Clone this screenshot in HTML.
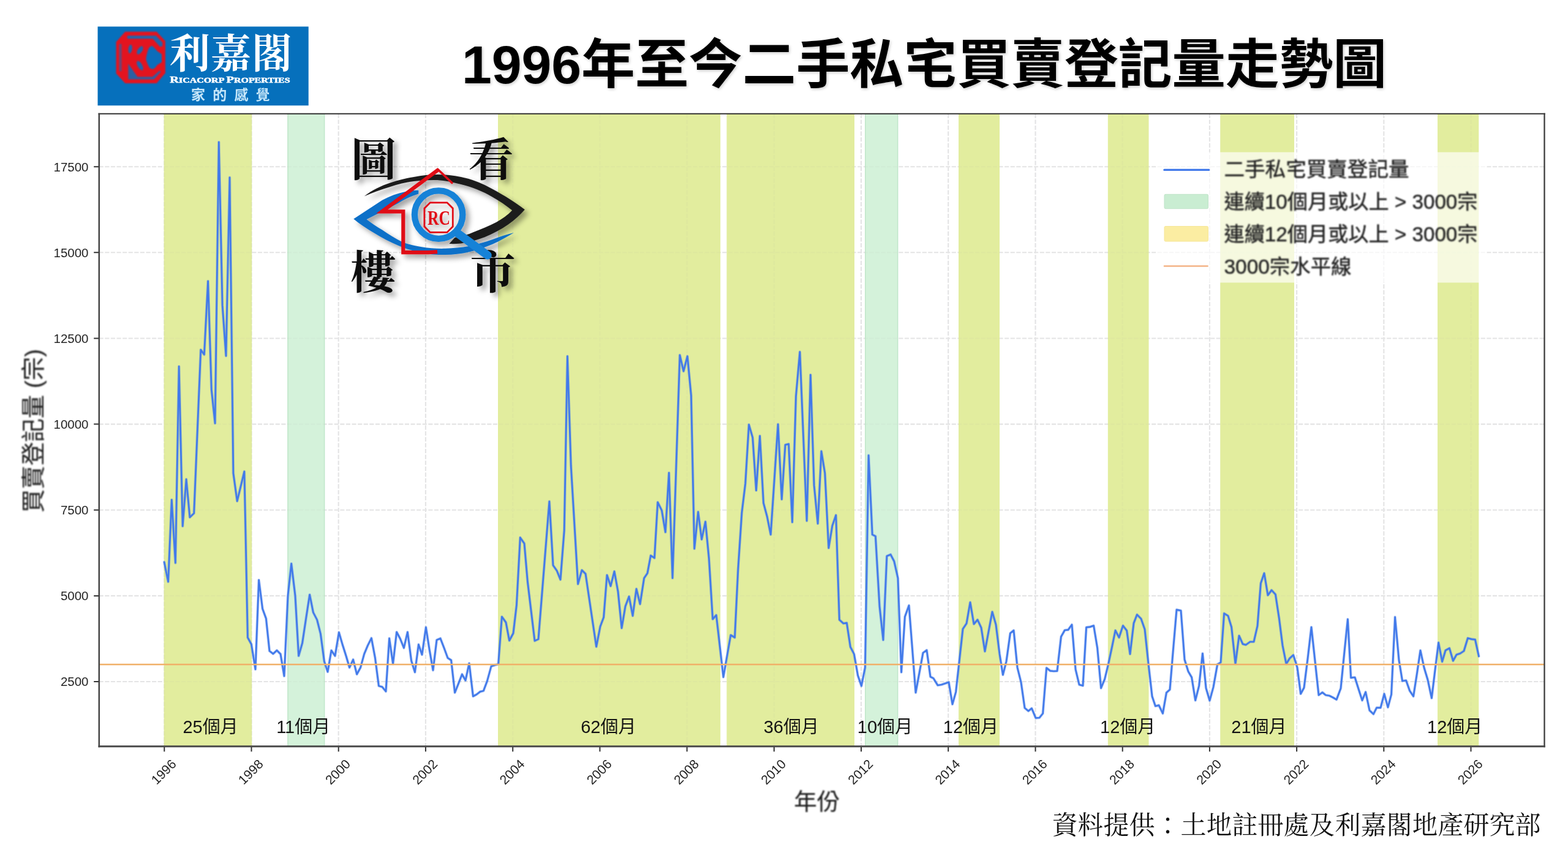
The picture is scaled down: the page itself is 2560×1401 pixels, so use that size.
<!DOCTYPE html>
<html lang="zh-Hant"><head><meta charset="utf-8">
<title>1996年至今二手私宅買賣登記量走勢圖</title>
<style>
html,body{margin:0;padding:0;background:#fff}
body{width:2560px;height:1401px;position:relative;overflow:hidden;font-family:"Liberation Sans",sans-serif}
svg{position:absolute;left:0;top:0;display:block}
.sr span{position:absolute;white-space:nowrap;color:transparent;line-height:1;font-family:"Liberation Sans",sans-serif;overflow:hidden;height:1em}
</style></head>
<body>
<svg width="2560" height="1401" viewBox="0 0 2560 1401">
<defs>
<filter id="cb" x="0" y="0" width="2560" height="1401" filterUnits="userSpaceOnUse" color-interpolation-filters="sRGB"><feGaussianBlur stdDeviation="0.8"/></filter>
<filter id="ts" x="-2%" y="-20%" width="104%" height="150%"><feDropShadow dx="1.5" dy="2" stdDeviation="2.2" flood-color="#000" flood-opacity=".2"/></filter>
<filter id="ws" x="-10%" y="-10%" width="125%" height="125%"><feDropShadow dx="6" dy="6" stdDeviation="4.2" flood-color="#000" flood-opacity=".36"/></filter>
</defs>
<g id="chart">
<path d="M268.3 185.8V1218.7M410.5 185.8V1218.7M552.7 185.8V1218.7M694.9 185.8V1218.7M837.2 185.8V1218.7M979.4 185.8V1218.7M1121.6 185.8V1218.7M1263.8 185.8V1218.7M1406.0 185.8V1218.7M1548.2 185.8V1218.7M1690.5 185.8V1218.7M1832.7 185.8V1218.7M1974.9 185.8V1218.7M2117.1 185.8V1218.7M2259.3 185.8V1218.7M2401.5 185.8V1218.7M161.7 1113.0H2521.7M161.7 972.9H2521.7M161.7 832.7H2521.7M161.7 692.6H2521.7M161.7 552.5H2521.7M161.7 412.3H2521.7M161.7 272.2H2521.7" fill="none" stroke="#b2b2b8" stroke-opacity=".29" stroke-width="2.1" stroke-dasharray="7.1 2.5"/>
<rect x="267.6" y="185.8" width="143.6" height="1032.9" fill="#e2ed9e"/>
<rect x="469.4" y="185.8" width="60.8" height="1032.9" fill="#d4f2da"/>
<path d="M470.0 185.8V1218.7M529.6 185.8V1218.7" stroke="#bfe6c9" stroke-width="1.4" fill="none"/>
<rect x="813" y="185.8" width="363.2" height="1032.9" fill="#e2ed9e"/>
<rect x="1186.4" y="185.8" width="208.6" height="1032.9" fill="#e2ed9e"/>
<rect x="1412.2" y="185.8" width="54.0" height="1032.9" fill="#d4f2da"/>
<path d="M1412.8 185.8V1218.7M1465.6000000000001 185.8V1218.7" stroke="#bfe6c9" stroke-width="1.4" fill="none"/>
<rect x="1565" y="185.8" width="67.0" height="1032.9" fill="#e2ed9e"/>
<rect x="1808.8" y="185.8" width="66.7" height="1032.9" fill="#e2ed9e"/>
<rect x="1992.2" y="185.8" width="120.8" height="1032.9" fill="#e2ed9e"/>
<rect x="2347" y="185.8" width="67.3" height="1032.9" fill="#e2ed9e"/>
<path d="M268.3 185.8V1218.7M410.5 185.8V1218.7M552.7 185.8V1218.7M694.9 185.8V1218.7M837.2 185.8V1218.7M979.4 185.8V1218.7M1121.6 185.8V1218.7M1263.8 185.8V1218.7M1406.0 185.8V1218.7M1548.2 185.8V1218.7M1690.5 185.8V1218.7M1832.7 185.8V1218.7M1974.9 185.8V1218.7M2117.1 185.8V1218.7M2259.3 185.8V1218.7M2401.5 185.8V1218.7M161.7 1113.0H2521.7M161.7 972.9H2521.7M161.7 832.7H2521.7M161.7 692.6H2521.7M161.7 552.5H2521.7M161.7 412.3H2521.7M161.7 272.2H2521.7" fill="none" stroke="#b2b2b8" stroke-opacity=".08" stroke-width="2.1" stroke-dasharray="7.1 2.5"/>
<polyline fill="none" stroke="#4179ea" stroke-opacity=".33" stroke-width="4.6" stroke-linejoin="round" stroke-linecap="round" points="268.1,917.8 274.6,950 280.3,816.1 286.4,919.1 292.2,598.3 298.2,859.2 304.1,782.6 309.9,844.7 316.7,838.1 327.8,571.1 333.4,579 339.6,459 345.3,636.6 351.1,691.2 357.3,232 363.1,498.4 369,581.1 375,289.9 380.9,772.6 387.2,818.3 398.9,769.9 404.4,1041 410.4,1052 417,1093 422.6,947 428.6,994 434.4,1010 440,1063 446,1067.6 452,1062 458,1068 464,1104 470,973 475.7,920.4 482,973 487.6,1071 493.6,1050 499.6,1010 505.6,971 511.4,1000 517.6,1012 523.4,1035 529.4,1080 535,1097 541,1062 547,1071 553.4,1032.6 559,1052 565,1071 570.6,1090 576.6,1077 582.6,1101 588.6,1090 594.6,1068 600.4,1054 606.4,1042 612.4,1074 618.4,1120 624,1121.6 630,1129 635.6,1042.4 641.6,1084 647.6,1032 653.4,1043 659.4,1058 665.4,1032 671.6,1079 677.4,1097.6 683.4,1052.4 689,1069 695.4,1024.4 701,1060 707,1094.4 713,1045 719,1042.4 725,1058 731,1074.4 736.6,1078 742.6,1131 748.6,1116 754.4,1101 760,1111 766,1083 772.4,1137 778,1134 784,1129.4 789.4,1128 795.4,1112 802,1088 808,1086 813.6,1084.4 819.4,1007 826,1016.4 831.6,1046 838,1034 843.4,988 849.3,877.7 856,887.4 861.4,950 873,1046.4 879,1043.6 896.9,818.8 903,923.1 909.2,932 915,946.4 921.2,866.3 926.4,581.7 932.2,760.7 943.6,953.6 950,931 956,937 973.6,1056 980,1023 985.6,1008 991,939 997,957 1003,933 1009,966 1015,1025.6 1021,990 1027,974 1033,1005.6 1039,961.6 1045,986.4 1051.6,944 1057,936 1062.4,907.2 1068.5,911.2 1073.8,820.1 1080.4,833.3 1086.4,869 1092.2,772 1098,944 1109.9,579.8 1116,606.2 1122.3,581.7 1128.4,645.8 1133.7,895.9 1139.8,835.9 1145.6,880.8 1151.7,851.8 1157.5,912 1163.6,1011 1169.4,1004.4 1181,1105.6 1193,1037 1199.6,1041 1205,930 1211.1,837.3 1216.9,789.7 1222.7,693.4 1228.8,714.5 1234.6,800.8 1240.6,711.8 1246.5,821.4 1252.5,843.9 1258.3,872.9 1270.2,692.8 1276.3,815.3 1282.1,726.4 1287.6,725 1293.5,852.6 1299.5,647.1 1305.9,574.5 1317.2,850.5 1323.3,612 1329.1,792.4 1335.2,855 1341,736.9 1346.8,772.6 1352.9,894.8 1358.9,858.4 1364.8,841.2 1370.4,1012 1377,1018 1382.4,1017 1388.4,1056.4 1394.4,1068 1400.6,1103 1406.4,1120 1412.4,1090 1418.1,743.5 1424.2,872.9 1429.4,875.6 1436,990 1442,1045 1447.9,908 1454,905.4 1459.8,916.5 1466,944 1471.6,1097.6 1477.4,1007 1484,988.6 1495,1131 1507,1066 1513,1061.6 1519,1105 1524,1107.6 1531,1119 1537,1118 1543,1116 1549,1114 1555,1150 1560.6,1130 1572,1027 1578,1018 1584,983.6 1590,1019 1596,1012 1602,1025 1608,1063.6 1620,999 1626,1020 1632,1068 1637.4,1102 1643,1080 1649.4,1034 1655,1029.4 1661,1090 1667,1114 1673,1156 1679,1161 1684.4,1156.6 1691,1172.4 1697,1172 1702.6,1165 1708.6,1090.6 1714.6,1095.4 1720.6,1096 1726,1095.6 1732.4,1039.6 1738.4,1029 1744,1028.4 1750,1020 1756,1093 1762,1118 1768,1119.6 1773.6,1024.4 1779.6,1023.6 1785.6,1021.6 1791.6,1058 1797.6,1123.6 1803.6,1109 1809.6,1084 1815.6,1056 1821,1029.4 1827,1041 1833.4,1021.6 1839.6,1029.6 1845,1068 1851,1017.6 1856.4,1003.6 1863,1010.4 1869,1027.6 1875,1084 1881,1137 1886.4,1153 1892,1151.6 1898.4,1165 1904.4,1131 1910,1126 1915.4,1061 1921,995.6 1928,997 1934,1077 1940,1096.4 1945.6,1106 1951.6,1143.6 1957.6,1120 1963.4,1067 1969,1123.6 1975,1144 1981,1122 1987.6,1085 1993,1081.6 1998.6,1001.6 2005,1005.6 2010.6,1024 2017,1084 2023,1038 2029,1051.6 2034,1053 2041,1048 2047,1048 2053,1022 2058.4,952.4 2064,936 2070,972 2076,963.6 2082.4,970.6 2088.4,1010 2094,1054 2100,1084 2105.6,1075 2111.6,1069.6 2118,1090 2123.6,1133 2129,1123 2135.2,1074 2141,1024 2147,1079.6 2153,1135 2159,1130.6 2164.4,1135 2170.4,1136 2176.4,1139 2182,1142.4 2189,1124 2194.6,1068 2200.4,1011 2205.6,1106.6 2212,1106 2218,1125 2224,1143.6 2229.6,1130 2236,1160 2242.4,1166 2247.6,1155.6 2254,1155.6 2260,1133 2266,1155 2271.6,1134 2277.6,1007.6 2284,1078 2289.6,1112 2295.6,1111 2301.6,1128 2307.6,1137 2313.4,1100 2319,1062 2325,1090 2331,1110 2337.4,1140 2343,1094 2348.6,1049.4 2354.6,1080.4 2360,1062 2366.4,1058.4 2372.4,1079 2378,1069 2384,1067 2390,1063 2396.4,1042 2402.4,1043.6 2408.4,1044.4 2414.4,1071.6"/>
<polyline fill="none" stroke="#4179ea" stroke-width="2.7" stroke-linejoin="round" stroke-linecap="round" points="268.1,917.8 274.6,950 280.3,816.1 286.4,919.1 292.2,598.3 298.2,859.2 304.1,782.6 309.9,844.7 316.7,838.1 327.8,571.1 333.4,579 339.6,459 345.3,636.6 351.1,691.2 357.3,232 363.1,498.4 369,581.1 375,289.9 380.9,772.6 387.2,818.3 398.9,769.9 404.4,1041 410.4,1052 417,1093 422.6,947 428.6,994 434.4,1010 440,1063 446,1067.6 452,1062 458,1068 464,1104 470,973 475.7,920.4 482,973 487.6,1071 493.6,1050 499.6,1010 505.6,971 511.4,1000 517.6,1012 523.4,1035 529.4,1080 535,1097 541,1062 547,1071 553.4,1032.6 559,1052 565,1071 570.6,1090 576.6,1077 582.6,1101 588.6,1090 594.6,1068 600.4,1054 606.4,1042 612.4,1074 618.4,1120 624,1121.6 630,1129 635.6,1042.4 641.6,1084 647.6,1032 653.4,1043 659.4,1058 665.4,1032 671.6,1079 677.4,1097.6 683.4,1052.4 689,1069 695.4,1024.4 701,1060 707,1094.4 713,1045 719,1042.4 725,1058 731,1074.4 736.6,1078 742.6,1131 748.6,1116 754.4,1101 760,1111 766,1083 772.4,1137 778,1134 784,1129.4 789.4,1128 795.4,1112 802,1088 808,1086 813.6,1084.4 819.4,1007 826,1016.4 831.6,1046 838,1034 843.4,988 849.3,877.7 856,887.4 861.4,950 873,1046.4 879,1043.6 896.9,818.8 903,923.1 909.2,932 915,946.4 921.2,866.3 926.4,581.7 932.2,760.7 943.6,953.6 950,931 956,937 973.6,1056 980,1023 985.6,1008 991,939 997,957 1003,933 1009,966 1015,1025.6 1021,990 1027,974 1033,1005.6 1039,961.6 1045,986.4 1051.6,944 1057,936 1062.4,907.2 1068.5,911.2 1073.8,820.1 1080.4,833.3 1086.4,869 1092.2,772 1098,944 1109.9,579.8 1116,606.2 1122.3,581.7 1128.4,645.8 1133.7,895.9 1139.8,835.9 1145.6,880.8 1151.7,851.8 1157.5,912 1163.6,1011 1169.4,1004.4 1181,1105.6 1193,1037 1199.6,1041 1205,930 1211.1,837.3 1216.9,789.7 1222.7,693.4 1228.8,714.5 1234.6,800.8 1240.6,711.8 1246.5,821.4 1252.5,843.9 1258.3,872.9 1270.2,692.8 1276.3,815.3 1282.1,726.4 1287.6,725 1293.5,852.6 1299.5,647.1 1305.9,574.5 1317.2,850.5 1323.3,612 1329.1,792.4 1335.2,855 1341,736.9 1346.8,772.6 1352.9,894.8 1358.9,858.4 1364.8,841.2 1370.4,1012 1377,1018 1382.4,1017 1388.4,1056.4 1394.4,1068 1400.6,1103 1406.4,1120 1412.4,1090 1418.1,743.5 1424.2,872.9 1429.4,875.6 1436,990 1442,1045 1447.9,908 1454,905.4 1459.8,916.5 1466,944 1471.6,1097.6 1477.4,1007 1484,988.6 1495,1131 1507,1066 1513,1061.6 1519,1105 1524,1107.6 1531,1119 1537,1118 1543,1116 1549,1114 1555,1150 1560.6,1130 1572,1027 1578,1018 1584,983.6 1590,1019 1596,1012 1602,1025 1608,1063.6 1620,999 1626,1020 1632,1068 1637.4,1102 1643,1080 1649.4,1034 1655,1029.4 1661,1090 1667,1114 1673,1156 1679,1161 1684.4,1156.6 1691,1172.4 1697,1172 1702.6,1165 1708.6,1090.6 1714.6,1095.4 1720.6,1096 1726,1095.6 1732.4,1039.6 1738.4,1029 1744,1028.4 1750,1020 1756,1093 1762,1118 1768,1119.6 1773.6,1024.4 1779.6,1023.6 1785.6,1021.6 1791.6,1058 1797.6,1123.6 1803.6,1109 1809.6,1084 1815.6,1056 1821,1029.4 1827,1041 1833.4,1021.6 1839.6,1029.6 1845,1068 1851,1017.6 1856.4,1003.6 1863,1010.4 1869,1027.6 1875,1084 1881,1137 1886.4,1153 1892,1151.6 1898.4,1165 1904.4,1131 1910,1126 1915.4,1061 1921,995.6 1928,997 1934,1077 1940,1096.4 1945.6,1106 1951.6,1143.6 1957.6,1120 1963.4,1067 1969,1123.6 1975,1144 1981,1122 1987.6,1085 1993,1081.6 1998.6,1001.6 2005,1005.6 2010.6,1024 2017,1084 2023,1038 2029,1051.6 2034,1053 2041,1048 2047,1048 2053,1022 2058.4,952.4 2064,936 2070,972 2076,963.6 2082.4,970.6 2088.4,1010 2094,1054 2100,1084 2105.6,1075 2111.6,1069.6 2118,1090 2123.6,1133 2129,1123 2135.2,1074 2141,1024 2147,1079.6 2153,1135 2159,1130.6 2164.4,1135 2170.4,1136 2176.4,1139 2182,1142.4 2189,1124 2194.6,1068 2200.4,1011 2205.6,1106.6 2212,1106 2218,1125 2224,1143.6 2229.6,1130 2236,1160 2242.4,1166 2247.6,1155.6 2254,1155.6 2260,1133 2266,1155 2271.6,1134 2277.6,1007.6 2284,1078 2289.6,1112 2295.6,1111 2301.6,1128 2307.6,1137 2313.4,1100 2319,1062 2325,1090 2331,1110 2337.4,1140 2343,1094 2348.6,1049.4 2354.6,1080.4 2360,1062 2366.4,1058.4 2372.4,1079 2378,1069 2384,1067 2390,1063 2396.4,1042 2402.4,1043.6 2408.4,1044.4 2414.4,1071.6"/>
<path d="M161.7 1085.0H2521.7" stroke="#f0b068" stroke-opacity=".35" stroke-width="3.6" fill="none"/>
<path d="M161.7 1085.0H2521.7" stroke="#f0b068" stroke-width="1.9" fill="none"/>
<path d="M268.3 1218.7v8.5M410.5 1218.7v8.5M552.7 1218.7v8.5M694.9 1218.7v8.5M837.2 1218.7v8.5M979.4 1218.7v8.5M1121.6 1218.7v8.5M1263.8 1218.7v8.5M1406.0 1218.7v8.5M1548.2 1218.7v8.5M1690.5 1218.7v8.5M1832.7 1218.7v8.5M1974.9 1218.7v8.5M2117.1 1218.7v8.5M2259.3 1218.7v8.5M2401.5 1218.7v8.5M161.7 1113.0h-8.5M161.7 972.9h-8.5M161.7 832.7h-8.5M161.7 692.6h-8.5M161.7 552.5h-8.5M161.7 412.3h-8.5M161.7 272.2h-8.5" stroke="#333" stroke-width="2" fill="none"/>
<path d="M160.5 185.7H2522.7999999999997" stroke="#333" stroke-width="2.1" fill="none"/>
<path d="M2521.5 184.8V1220.2" stroke="#3c3c3c" stroke-width="2.3" fill="none"/>
<path d="M160.5 1218.8H2522.7999999999997" stroke="#4a4a4a" stroke-width="3" fill="none"/>
<path d="M161.8 184.8V1220.2" stroke="#444" stroke-width="2.5" fill="none"/>
<g font-family="Liberation Sans, sans-serif" font-size="20.5" fill="#1f1f1f" opacity=".99">
<text x="144.5" y="1120.3" text-anchor="end">2500</text>
<text x="144.5" y="980.2" text-anchor="end">5000</text>
<text x="144.5" y="840.0" text-anchor="end">7500</text>
<text x="144.5" y="699.9" text-anchor="end">10000</text>
<text x="144.5" y="559.8" text-anchor="end">12500</text>
<text x="144.5" y="419.6" text-anchor="end">15000</text>
<text x="144.5" y="279.5" text-anchor="end">17500</text>
<text transform="translate(267.0 1260.4) rotate(-45)" y="7.5" font-size="21.2" text-anchor="middle">1996</text>
<text transform="translate(409.2 1260.4) rotate(-45)" y="7.5" font-size="21.2" text-anchor="middle">1998</text>
<text transform="translate(551.4 1260.4) rotate(-45)" y="7.5" font-size="21.2" text-anchor="middle">2000</text>
<text transform="translate(693.6 1260.4) rotate(-45)" y="7.5" font-size="21.2" text-anchor="middle">2002</text>
<text transform="translate(835.9 1260.4) rotate(-45)" y="7.5" font-size="21.2" text-anchor="middle">2004</text>
<text transform="translate(978.1 1260.4) rotate(-45)" y="7.5" font-size="21.2" text-anchor="middle">2006</text>
<text transform="translate(1120.3 1260.4) rotate(-45)" y="7.5" font-size="21.2" text-anchor="middle">2008</text>
<text transform="translate(1262.5 1260.4) rotate(-45)" y="7.5" font-size="21.2" text-anchor="middle">2010</text>
<text transform="translate(1404.7 1260.4) rotate(-45)" y="7.5" font-size="21.2" text-anchor="middle">2012</text>
<text transform="translate(1546.9 1260.4) rotate(-45)" y="7.5" font-size="21.2" text-anchor="middle">2014</text>
<text transform="translate(1689.2 1260.4) rotate(-45)" y="7.5" font-size="21.2" text-anchor="middle">2016</text>
<text transform="translate(1831.4 1260.4) rotate(-45)" y="7.5" font-size="21.2" text-anchor="middle">2018</text>
<text transform="translate(1973.6 1260.4) rotate(-45)" y="7.5" font-size="21.2" text-anchor="middle">2020</text>
<text transform="translate(2115.8 1260.4) rotate(-45)" y="7.5" font-size="21.2" text-anchor="middle">2022</text>
<text transform="translate(2258.0 1260.4) rotate(-45)" y="7.5" font-size="21.2" text-anchor="middle">2024</text>
<text transform="translate(2400.2 1260.4) rotate(-45)" y="7.5" font-size="21.2" text-anchor="middle">2026</text>
</g>
<g filter="url(#cb)" stroke="#1c1c1c" stroke-width=".2" font-family="Liberation Sans, Noto Sans CJK TC, sans-serif" fill="#1c1c1c">
<text x="1333.7" y="1322" font-size="37.5" text-anchor="middle">年份</text>
<g transform="translate(68 703.5) rotate(-90)">
<text x="0" y="0" font-size="38.5" text-anchor="middle">買賣登記量 (宗)</text>
</g>
</g>
<rect x="1887.6" y="248.6" width="540" height="212.8" rx="6" fill="#fff" fill-opacity=".67"/>
<path d="M1901 277.4H1973.6" stroke="#4179ea" stroke-width="3.4" fill="none" stroke-linecap="round"/>
<rect x="1901" y="317.3" width="71.5" height="23.4" rx="2" fill="#c9edd2" stroke="#bfe3c8" stroke-width="1"/>
<rect x="1901" y="369.5" width="71.5" height="24.6" rx="2" fill="#fbeda2" stroke="#f6e69a" stroke-width="1"/>
<path d="M1901 434.5H1971.5" stroke="#f3b487" stroke-width="2.6" fill="none" stroke-linecap="round"/>
<g filter="url(#cb)" stroke="#222" stroke-width=".45" font-family="Liberation Sans, Noto Sans CJK TC, sans-serif" font-size="33.5" fill="#222">
<text x="1998.5" y="288.2" textLength="302" lengthAdjust="spacingAndGlyphs">二手私宅買賣登記量</text>
<text x="1998.5" y="341.1" textLength="414" lengthAdjust="spacingAndGlyphs">連續10個月或以上 &gt; 3000宗</text>
<text x="1998.5" y="393.9" textLength="414" lengthAdjust="spacingAndGlyphs">連續12個月或以上 &gt; 3000宗</text>
<text x="1998.5" y="446.7" textLength="208" lengthAdjust="spacingAndGlyphs">3000宗水平線</text>
</g>
</g>
<g font-family="Liberation Sans, Noto Sans CJK TC, sans-serif" font-size="29" fill="#141414" text-anchor="middle">
<text x="343.6" y="1197">25個月</text>
<text x="495.2" y="1197">11個月</text>
<text x="993.3" y="1197">62個月</text>
<text x="1291.8" y="1197">36個月</text>
<text x="1445" y="1197">10個月</text>
<text x="1585" y="1197">12個月</text>
<text x="1841.2" y="1197">12個月</text>
<text x="2055.5" y="1197">21個月</text>
<text x="2375.2" y="1197">12個月</text>
</g>
<g filter="url(#ts)">
<text x="754" y="135.8" font-family="Liberation Sans, Noto Sans CJK TC, sans-serif" font-size="87.1" font-weight="bold" fill="#000" textLength="1510" lengthAdjust="spacingAndGlyphs">1996年至今二手私宅買賣登記量走勢圖</text>
</g>
<text x="1717.5" y="1362" font-family="Liberation Serif, Noto Serif CJK SC, serif" font-size="41.8" fill="#111" textLength="798" lengthAdjust="spacingAndGlyphs">資料提供：土地註冊處及利嘉閣地產研究部</text>
<g id="logo">
<rect x="159.5" y="43.4" width="344.2" height="128.9" fill="#0670bc"/>
<g filter="url(#cb)">
<path d="M204.3 51.8H255.7L269.9 67.1V119.2L255.7 136H204.3L189.6 120V68.6Z" fill="#e3141f"/>
<path d="M208.6 58.2H254.6L265.3 69.6V75.3L261.4 76.4L249.6 63.2H208.6Q206.4 60.7 208.6 58.2Z" fill="#0b6dbb" fill-opacity=".9"/>
<rect x="194.3" y="71.4" width="4.4" height="45" rx="1.5" fill="#0b6dbb" fill-opacity=".55"/>
<path d="M209.4 104V129.6H251.5L262.8 116.9L260.3 115.6L248.9 125.6H224.5Z" fill="#0b6dbb" fill-opacity=".85"/>
<ellipse cx="212.6" cy="80" rx="3.1" ry="7.2" transform="rotate(8 212.6 80)" fill="#0b6dbb" fill-opacity=".9"/>
<ellipse cx="228.5" cy="82.1" rx="3.7" ry="7.6" transform="rotate(32 228.5 82.1)" fill="#0b6dbb" fill-opacity=".9"/>
<ellipse cx="228.5" cy="107.1" rx="3.7" ry="8.6" transform="rotate(-30 228.5 107.1)" fill="#0b6dbb" fill-opacity=".9"/>
<path d="M238.2 96.4Q240 85 243 78.5Q245.5 75 248.5 75Q252.5 78 256.5 83.2L264 88.5V101.5L256.5 106.2Q254 110.5 251.2 112.3Q247.8 113.3 244.8 111.6Q242.8 109 241.5 105.8Q239.5 101 238.2 96.4Z" fill="#0b6dbb"/>
</g>
<text x="277" y="111" font-family="Liberation Serif, Noto Serif CJK SC, serif" font-size="66" font-weight="bold" fill="#fff" textLength="200" lengthAdjust="spacing">利嘉閣</text>
<text x="277.2" y="134.8" font-family="Liberation Serif, serif" font-weight="bold" fill="#fff" stroke="#fff" stroke-width=".55" textLength="196.4" lengthAdjust="spacingAndGlyphs"><tspan font-size="15.6">R</tspan><tspan font-size="12.2">ICACORP </tspan><tspan font-size="15.6">P</tspan><tspan font-size="12.2">ROPERTIES</tspan></text>
<text x="312" y="163" font-family="Liberation Sans, Noto Sans CJK TC, sans-serif" font-size="23" font-weight="bold" fill="#c6e6f9" letter-spacing="12.2">家的感覺</text>
</g>
<g id="wm" filter="url(#ws)">
<g font-family="Liberation Serif, Noto Serif CJK SC, serif" font-size="74" font-weight="bold" fill="#0a0a0a">
<text x="573" y="287">圖</text>
<text x="764.5" y="287">看</text>
<text x="572" y="471">樓</text>
<text x="767.5" y="471">市</text>
</g>
<path d="M594.7 320.4C608 310 622 303.5 637.1 298.5C650 294 662 291 675.6 288.9C689 286.5 701 285 714.2 285C727 285.2 740 286.5 752.7 288.9C771 292.5 788 299.5 804.1 308.8C824 319.5 842 331 856.8 342.2C849 351 840 359.5 829.8 366.6C818 375 805 381.5 791.2 387.2C779 392 766 395.5 752.7 397.5C746 398.2 740 398.3 733.4 398.1L742.5 388C745 387.6 747.5 387.1 750.1 386.5C757.5 385 765 382.5 772 379.5C785.5 374.5 798.5 369 810.5 362.8C820 357.5 829 351 836.2 343.5C826.5 335.5 815.5 328 804.1 321.7C788 312.5 771 305.5 752.7 301.1C740 298 727 294.6 714.2 294C701 293.6 688 294.5 675.6 296C662 297.8 649.5 300.8 637.1 305C622 309.5 608 314.5 594.7 320.4Z" fill="#1d1d1d"/>
<path d="M577.3 357.6L624.2 326.8C636.5 320 649 315.5 662.8 312.7C669.5 311.3 676.5 310.7 683.3 310.7V316.5C671.5 320 660.5 325.5 649.9 331.9L598.5 358.3C606.5 364.5 615 370.5 624.2 375.6C634.5 382.5 645 389.5 656.4 394.9C666.5 399 677.5 401.5 688.5 403.2C701 405.2 714 406.2 727 405.8C740 405.4 753 404.3 765.5 402C778.5 399 791.5 395.4 804.1 391C816 386.5 827.5 382.8 838.8 380.1C827.8 387 816.5 393.3 804.1 398.7C791.5 404 778.5 408.4 765.5 411.6C753 414.5 740 416 727 416.1C714 416.2 701 415.2 688.5 412.9C675.5 410.2 662.5 405.9 649.9 400.7C636.5 395 623.5 388.5 611.4 380.8C599 373.5 587.5 366 577.3 357.6Z" fill="#0f6fc8"/>
<path d="M716.1 276.7L623.6 345.4H658.3V412.2H700L714 411.2" fill="none" stroke="#df0a16" stroke-width="6.2" stroke-linejoin="miter" stroke-miterlimit="6"/>
<path d="M714.8 276.5L737.9 298.5" fill="none" stroke="#df0a16" stroke-width="3.6" stroke-linecap="round"/>
<circle cx="716.1" cy="350.6" r="39.2" fill="none" stroke="#1982d7" stroke-width="10.3"/>
<path d="M746.5 380.5L796 416.8" stroke="#1982d7" stroke-width="13.5" stroke-linecap="round"/>
<path d="M702.3 330.8h27.6l9.4 9.4v29.8l-9.4 9.4h-27.6l-9.4-9.4v-29.8z" fill="none" stroke="#e00b17" stroke-width="2.8"/>
<text x="716.6" y="367" font-family="Liberation Serif, serif" font-size="34" font-weight="bold" fill="#e00b17" text-anchor="middle" textLength="37" lengthAdjust="spacingAndGlyphs">RC</text>
</g>
</svg>
</body></html>
